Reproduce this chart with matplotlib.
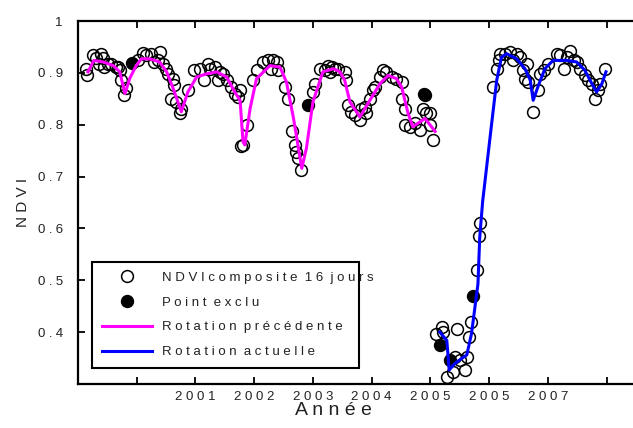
import matplotlib
matplotlib.use('Agg')
import matplotlib.pyplot as plt
from matplotlib.lines import Line2D

# NDVI composite 16 jours (open circles)
pt_year = [1999.14, 1999.15, 1999.25, 1999.31, 1999.39, 1999.42, 1999.36, 1999.45, 1999.56, 1999.51,
           1999.65, 1999.71, 1999.68, 1999.74, 1999.82, 1999.79,
           2000.02, 2000.10, 2000.16, 2000.24, 2000.39, 2000.36, 2000.30, 2000.44, 2000.50, 2000.53,
           2000.61, 2000.64, 2000.58, 2000.67, 2000.73, 2000.75, 2000.87, 2000.98, 2001.07, 2001.15, 2001.24,
           2001.21, 2001.33, 2001.41, 2001.47, 2001.38, 2001.53, 2001.61, 2001.67, 2001.73, 2001.76,
           2001.87, 2001.81, 2001.78, 2001.98, 2002.04, 2002.15, 2002.24, 2002.32, 2002.38, 2002.29,
           2002.41, 2002.52, 2002.58, 2002.64, 2002.69, 2002.72, 2002.75, 2002.80,
           2003.00, 2003.03, 2003.12, 2003.20, 2003.29, 2003.26, 2003.37,
           2003.32, 2003.43, 2003.54, 2003.57, 2003.60, 2003.65, 2003.71, 2003.80, 2003.82, 2003.88,
           2003.91, 2003.97, 2004.03, 2004.05, 2004.14, 2004.20, 2004.25, 2004.34, 2004.42, 2004.51,
           2004.51, 2004.57, 2004.57, 2004.65, 2004.74, 2004.82, 2004.88, 2004.93, 2004.99, 2004.99, 2005.05,
           2005.10, 2005.19, 2005.22, 2005.28, 2005.39, 2005.42, 2005.45, 2005.50, 2005.59, 2005.62,
           2005.65, 2005.70, 2005.79, 2005.83, 2005.84,
           2006.07, 2006.13, 2006.16, 2006.18, 2006.27, 2006.36, 2006.41, 2006.47, 2006.52, 2006.58,
           2006.64, 2006.61, 2006.67, 2006.75, 2006.84, 2006.87, 2006.93, 2007.01, 2007.15, 2007.21,
           2007.27, 2007.33, 2007.38, 2007.44, 2007.50, 2007.55, 2007.64, 2007.69, 2007.75, 2007.80,
           2007.86, 2007.89, 2007.97]
pt_ndvi = [0.908, 0.895, 0.934, 0.929, 0.937, 0.929, 0.917, 0.911, 0.917, 0.917,
           0.912, 0.905, 0.911, 0.886, 0.870, 0.857,
           0.924, 0.938, 0.934, 0.937, 0.940, 0.924, 0.921, 0.917, 0.908, 0.898,
           0.889, 0.876, 0.850, 0.844, 0.822, 0.831, 0.866, 0.905, 0.908, 0.886, 0.908,
           0.917, 0.911, 0.902, 0.898, 0.886, 0.886, 0.873, 0.860, 0.854, 0.866,
           0.800, 0.761, 0.758, 0.886, 0.905, 0.921, 0.924, 0.924, 0.921, 0.908,
           0.905, 0.873, 0.850, 0.787, 0.761, 0.748, 0.735, 0.713,
           0.863, 0.879, 0.908, 0.905, 0.902, 0.914, 0.908,
           0.911, 0.908, 0.902, 0.886, 0.838, 0.825, 0.819, 0.809, 0.831, 0.834,
           0.822, 0.850, 0.866, 0.873, 0.892, 0.905, 0.902, 0.892, 0.889, 0.882,
           0.850, 0.831, 0.799, 0.796, 0.803, 0.790, 0.831, 0.822, 0.822, 0.799, 0.771,
           0.397, 0.410, 0.400, 0.314, 0.324, 0.352, 0.407, 0.346, 0.327, 0.352,
           0.391, 0.419, 0.520, 0.585, 0.611,
           0.873, 0.908, 0.924, 0.937, 0.937, 0.940, 0.924, 0.937, 0.930, 0.905,
           0.917, 0.889, 0.882, 0.825, 0.866, 0.898, 0.905, 0.917, 0.937, 0.934,
           0.908, 0.930, 0.943, 0.924, 0.921, 0.908, 0.895, 0.886, 0.879, 0.850,
           0.866, 0.879, 0.908]

# Point exclu (filled)
excl_year = [1999.92, 2002.92, 2004.89, 2004.91, 2005.17, 2005.34, 2005.73]
excl_ndvi = [0.919, 0.838, 0.860, 0.857, 0.375, 0.346, 0.470]

# Rotation precedente (magenta)
prev_year = [1999.17, 1999.27, 1999.43, 1999.60, 1999.71, 1999.80, 1999.88, 1999.99, 2000.08, 2000.22,
             2000.39, 2000.51, 2000.62, 2000.76, 2000.87, 2001.02, 2001.19, 2001.36, 2001.53, 2001.67,
             2001.76, 2001.81, 2001.84, 2001.93, 2002.04, 2002.27, 2002.44, 2002.55, 2002.67, 2002.81,
             2002.89, 2003.00, 2003.17, 2003.35, 2003.46, 2003.54, 2003.63, 2003.80, 2003.97, 2004.14,
             2004.28, 2004.42, 2004.51, 2004.62, 2004.70, 2004.91, 2005.08]
prev_ndvi = [0.902, 0.924, 0.921, 0.914, 0.902, 0.860, 0.889, 0.914, 0.927, 0.927,
             0.921, 0.902, 0.870, 0.825, 0.863, 0.892, 0.898, 0.902, 0.892, 0.863,
             0.847, 0.767, 0.761, 0.831, 0.889, 0.914, 0.911, 0.882, 0.812, 0.716,
             0.755, 0.844, 0.902, 0.908, 0.902, 0.886, 0.844, 0.815, 0.847, 0.879,
             0.895, 0.889, 0.873, 0.822, 0.796, 0.812, 0.787]

# Rotation actuelle (blue)
curr_year = [2005.16, 2005.28, 2005.32, 2005.42, 2005.53, 2005.62, 2005.70, 2005.81, 2005.84, 2005.89,
             2006.04, 2006.13, 2006.21, 2006.30, 2006.47, 2006.61, 2006.70, 2006.75, 2006.84, 2006.95,
             2007.09, 2007.32, 2007.49, 2007.63, 2007.75, 2007.83, 2007.92, 2007.99]
curr_ndvi = [0.400, 0.384, 0.327, 0.340, 0.349, 0.356, 0.397, 0.493, 0.582, 0.652,
             0.799, 0.886, 0.930, 0.937, 0.927, 0.908, 0.886, 0.847, 0.876, 0.908,
             0.924, 0.924, 0.921, 0.905, 0.879, 0.863, 0.879, 0.902]

x_ticks = [2000, 2001, 2002, 2003, 2004, 2005, 2006, 2007, 2008]
x_labels = ['', '2001', '2002', '2003', '2004', '2005', '2005', '2007', '']
y_ticks = [0.4, 0.5, 0.6, 0.7, 0.8, 0.9, 1.0]
y_labels = ['0.4', '0.5', '0.6', '0.7', '0.8', '0.9', '1']

HAIR = '\u200a'


def spaced(s, gap=HAIR * 2):
    # wide letter spacing like the original figure; words kept apart by a normal space
    return '  '.join(gap.join(w) for w in s.split(' '))


plt.rcParams['font.family'] = ['Liberation Sans', 'DejaVu Sans']

fig = plt.figure(figsize=(6.33, 4.28), dpi=100)
ax = fig.add_axes([78 / 633, 1 - 384 / 428, 1 - 78 / 633, 363 / 428])

ax.plot(prev_year, prev_ndvi, color='#ff00ff', lw=2.2, zorder=3)
ax.plot(curr_year, curr_ndvi, color='#0000ff', lw=2.2, zorder=3)
ax.plot(pt_year, pt_ndvi, 'o', mfc='none', mec='black', ms=8.5, mew=1.1, zorder=2)
ax.plot(excl_year, excl_ndvi, 'o', mfc='black', mec='black', ms=8.5, mew=1.1, zorder=2)

ax.set_xlim(1999.0, 2008.45)
ax.set_ylim(0.3, 0.995)
ax.set_xticks(x_ticks)
ax.set_xticklabels([spaced(s, ' ') for s in x_labels], fontsize=9.5, color='#222222')
ax.set_yticks(y_ticks)
ax.set_yticklabels([spaced(s, HAIR * 3) for s in y_labels], fontsize=9.5, color='#222222')
ax.tick_params(axis='x', direction='in', top=True, length=5, width=1.3, pad=5)
ax.tick_params(axis='y', direction='in', length=5, width=1.3, pad=11)
ax.spines['right'].set_visible(False)
for side in ['left', 'bottom', 'top']:
    ax.spines[side].set_linewidth(1.6)

ax.set_xlabel(spaced('Année', ' '), fontsize=14, color='#222222')
ax.xaxis.set_label_coords(0.461, -0.05)
ax.set_ylabel(spaced('NDVI', ' '), fontsize=11, color='#222222')
ax.yaxis.set_label_coords(-0.086, 0.5)

handles = [
    Line2D([], [], ls='none', marker='o', mfc='none', mec='black', ms=8.5, mew=1.1),
    Line2D([], [], ls='none', marker='o', mfc='black', mec='black', ms=8.5, mew=1.1),
    Line2D([], [], color='#ff00ff', lw=2.2),
    Line2D([], [], color='#0000ff', lw=2.2),
]
labels = [spaced('NDVIcomposite 16 jours', ' '),
          spaced('Point exclu', ' '),
          spaced('Rotation précédente', ' '),
          spaced('Rotation actuelle', ' ')]
leg = ax.legend(handles, labels, loc='lower left', bbox_to_anchor=(0.025, 0.044, 0.481, 0.295),
                mode='expand', borderaxespad=0, fontsize=9.5, handlelength=3.8, handletextpad=0.75,
                labelspacing=0.95, borderpad=0.75, fancybox=False, framealpha=1, edgecolor='black')
leg.get_frame().set_linewidth(1.5)
for t in leg.get_texts():
    t.set_color('#222222')

fig.savefig('out.png', dpi=100)
